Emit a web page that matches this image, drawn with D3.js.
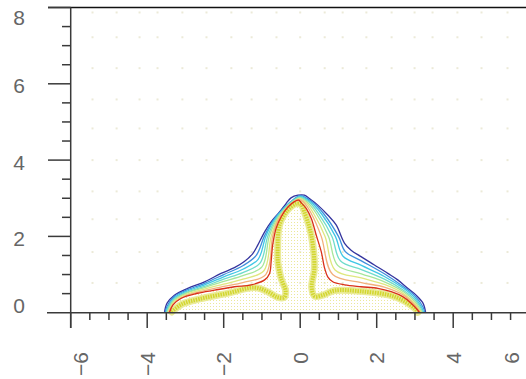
<!DOCTYPE html>
<html>
<head>
<meta charset="utf-8">
<script src="https://cdn.jsdelivr.net/npm/d3@7"></script>
<style>
  body { margin: 0; background: #fff; }
  text { font-family: "Liberation Sans", Arial, sans-serif; }
</style>
</head>
<body>
<svg id="chart" width="526" height="379"></svg>
<script>
// tick values
const xTicks = [-6, -4, -2, 0, 2, 4, 6];
const yTicks = [0, 2, 4, 6, 8];

// faint marker grid (x and y positions of the background dots)
const gridX = [-5.43, -4.8, -4.2, -3.73, -3.08, -2.45, -1.8, -1.27, -0.62, 0, 0.64, 1.11, 1.73, 2.39, 2.99, 3.46, 4.11, 4.74, 5.42];
const gridY = [7.87, 7.22, 6.41, 5.59, 4.83, 4.0, 3.18, 2.45, 1.59, 0.78];

// contour levels, outermost first
const blueLine = [[-3.55,0],[-3.48,0.25],[-3.29,0.46],[-2.94,0.64],[-2.5,0.81],[-2.07,1.03],[-1.72,1.18],[-1.46,1.34],[-1.24,1.55],[-1.11,1.77],[-0.93,2.12],[-0.76,2.38],[-0.54,2.64],[-0.37,2.86],[-0.24,3.01],[-0.06,3.08],[0.11,3.08],[0.24,2.99],[0.46,2.82],[0.72,2.56],[0.94,2.3],[1.16,1.82],[1.33,1.64],[1.59,1.47],[1.94,1.25],[2.29,1.03],[2.55,0.86],[2.81,0.64],[3.03,0.46],[3.21,0.25],[3.28,0]];
const line1 = [[-3.53,0],[-3.49,0.15],[-3.3,0.42],[-3.0,0.58],[-2.5,0.77],[-2.0,1.0],[-1.5,1.23],[-1.15,1.5],[-0.94,2.0],[-0.72,2.4],[-0.47,2.7],[-0.26,2.9],[0,3.07],[0.32,2.9],[0.61,2.6],[1.0,2.0],[1.18,1.6],[1.6,1.36],[2.2,1.02],[2.7,0.68],[3.0,0.44],[3.21,0.15],[3.26,0]];
const line2 = [[-3.51,0],[-3.46,0.15],[-3.3,0.38],[-3.0,0.55],[-2.5,0.73],[-2.0,0.94],[-1.5,1.14],[-1.1,1.4],[-0.9,2.0],[-0.7,2.4],[-0.46,2.7],[-0.24,2.9],[0,3.05],[0.27,2.9],[0.55,2.6],[0.92,2.0],[1.12,1.48],[1.6,1.24],[2.2,0.95],[2.7,0.64],[3.0,0.39],[3.17,0.15],[3.23,0]];
const line3 = [[-3.49,0],[-3.44,0.15],[-3.3,0.35],[-3.0,0.52],[-2.5,0.69],[-2.0,0.88],[-1.5,1.05],[-1.05,1.3],[-0.85,2.0],[-0.67,2.4],[-0.44,2.7],[-0.23,2.9],[-0.01,3.03],[0.23,2.9],[0.48,2.6],[0.83,2.0],[1.05,1.36],[1.6,1.13],[2.2,0.88],[2.7,0.59],[3.0,0.34],[3.14,0.15],[3.21,0]];
const line4 = [[-3.48,0],[-3.42,0.15],[-3.3,0.32],[-3.0,0.5],[-2.5,0.66],[-2.0,0.82],[-1.5,0.97],[-1.0,1.2],[-0.81,2.0],[-0.64,2.4],[-0.42,2.7],[-0.21,2.9],[-0.01,3.01],[0.18,2.9],[0.42,2.6],[0.74,2.0],[0.98,1.24],[1.6,1.02],[2.2,0.81],[2.7,0.55],[3.0,0.29],[3.1,0.15],[3.19,0]];
const line5 = [[-3.46,0],[-3.39,0.15],[-3.3,0.29],[-3.0,0.47],[-2.5,0.62],[-2.0,0.75],[-1.5,0.88],[-0.95,1.1],[-0.76,2.0],[-0.61,2.4],[-0.4,2.7],[-0.19,2.9],[-0.02,2.99],[0.14,2.9],[0.35,2.6],[0.65,2.0],[0.91,1.12],[1.6,0.91],[2.2,0.74],[2.7,0.5],[3.0,0.24],[3.07,0.15],[3.17,0]];
const line6 = [[-3.44,0],[-3.37,0.15],[-3.3,0.25],[-3.0,0.44],[-2.5,0.58],[-2.0,0.69],[-1.5,0.79],[-0.9,1.0],[-0.72,2.0],[-0.59,2.4],[-0.39,2.7],[-0.18,2.9],[-0.02,2.97],[0.09,2.9],[0.29,2.6],[0.55,2.0],[0.85,1.0],[1.6,0.79],[2.2,0.67],[2.7,0.46],[3.0,0.19],[3.03,0.15],[3.14,0]];
const redLine = [[-3.42,0],[-3.33,0.2],[-3.11,0.38],[-2.68,0.51],[-2.24,0.59],[-1.72,0.68],[-1.28,0.73],[-0.93,0.86],[-0.8,1.03],[-0.76,1.34],[-0.72,1.77],[-0.63,2.21],[-0.5,2.51],[-0.32,2.77],[-0.15,2.91],[-0.04,2.95],[0.03,2.88],[0.16,2.73],[0.29,2.47],[0.42,2.03],[0.55,1.6],[0.64,1.16],[0.72,0.94],[0.85,0.81],[1.16,0.73],[1.59,0.68],[2.03,0.64],[2.38,0.55],[2.68,0.42],[2.9,0.25],[3.07,0.07],[3.12,0]];

// dense yellow band just inside the red level
const bandLine = [[-3.36,0.02],[-3.1,0.22],[-2.63,0.36],[-1.85,0.52],[-1.2,0.66],[-0.85,0.55],[-0.6,0.41],[-0.42,0.4],[-0.38,0.56],[-0.5,0.9],[-0.58,1.3],[-0.59,1.59],[-0.54,2.3],[-0.33,2.69],[-0.1,2.86],[0.02,2.84],[0.11,2.64],[0.29,2.03],[0.37,1.17],[0.3,0.66],[0.38,0.43],[0.62,0.47],[0.9,0.58],[1.59,0.56],[2.47,0.42],[2.99,0.12],[3.08,0.01]];

const contours = [blueLine, line1, line2, line3, line4, line5, line6, redLine];
const contourColors = ["#34349e", "#3f8fdc", "#3fc7e6", "#6fdccb", "#a6e69a", "#dfe77e", "#f2b07c", "#d8301a"];

const svg = d3.select("#chart");
const x = d3.scaleLinear().domain([-6, 6]).range([70.7, 529.7]);
const y = d3.scaleLinear().domain([0, 8]).range([312.7, 7.5]);

const defs = svg.append("defs");
const pat = defs.append("pattern").attr("id", "speck")
  .attr("width", 3).attr("height", 3).attr("patternUnits", "userSpaceOnUse");
pat.append("rect").attr("width", 1).attr("height", 1).attr("fill", "#ebe89a");

// background marker grid
svg.append("g").selectAll("rect")
  .data(d3.cross(gridX, gridY))
  .join("rect")
  .attr("x", d => x(d[0]) - 1).attr("y", d => y(d[1]) - 1)
  .attr("width", 2).attr("height", 2)
  .attr("fill", "#ecead8");

const curve = d3.line()
  .x(d => x(d[0])).y(d => y(d[1]))
  .curve(d3.curveCatmullRom.alpha(0.5));

// speckled interior under the red level
svg.append("path")
  .attr("d", curve(redLine) + "Z")
  .attr("fill", "url(#speck)");

// yellow band
svg.append("path")
  .attr("d", curve(bandLine))
  .attr("fill", "none").attr("stroke", "#eaeb98").attr("stroke-width", 7)
  .attr("stroke-linejoin", "round").attr("stroke-linecap", "round");
svg.append("path")
  .attr("d", curve(bandLine))
  .attr("fill", "none").attr("stroke", "#d2d62e").attr("stroke-width", 4)
  .attr("stroke-dasharray", "1.5,1").attr("stroke-linejoin", "round");

// contour lines
svg.append("g").selectAll("path")
  .data(contours)
  .join("path")
  .attr("d", d => curve(d))
  .attr("fill", "none")
  .attr("stroke", (d, i) => contourColors[i])
  .attr("stroke-width", 1.3);

// axes
const ax = svg.append("g").attr("stroke", "#3a3a3a").attr("stroke-width", 1.5);
ax.append("line").attr("x1", 48).attr("x2", 526).attr("y1", y(8)).attr("y2", y(8)).attr("stroke", "#111");
ax.append("line").attr("x1", 47).attr("x2", 526).attr("y1", y(0)).attr("y2", y(0));
ax.append("line").attr("x1", x(-6)).attr("x2", x(-6)).attr("y1", y(8)).attr("y2", 328);

ax.selectAll(".ymaj").data(yTicks.slice(1)).join("line")
  .attr("x1", 48).attr("x2", x(-6)).attr("y1", d => y(d)).attr("y2", d => y(d));
ax.selectAll(".ymin").data(d3.range(0.5, 8, 0.5).filter(v => v % 2 !== 0)).join("line")
  .attr("x1", 62).attr("x2", x(-6)).attr("y1", d => y(d)).attr("y2", d => y(d));
ax.selectAll(".xmaj").data(xTicks).join("line")
  .attr("x1", d => x(d)).attr("x2", d => x(d)).attr("y1", y(0)).attr("y2", 328);
ax.selectAll(".xmin").data(d3.range(-5.5, 6, 0.5).filter(v => v % 2 !== 0)).join("line")
  .attr("x1", d => x(d)).attr("x2", d => x(d)).attr("y1", y(0)).attr("y2", 320);

// tick labels
svg.append("g").selectAll("text")
  .data(yTicks).join("text")
  .attr("x", 19)
  .attr("y", d => Math.max(17.5, Math.min(305, y(d) + 2)))
  .attr("dy", "0.36em")
  .attr("text-anchor", "middle")
  .attr("font-size", 21)
  .attr("fill", "#666")
  .text(d => d);

svg.append("g").selectAll("text")
  .data(xTicks).join("text")
  .attr("transform", d => `translate(${Math.max(80, Math.min(511, x(d)))},352) rotate(-90)`)
  .attr("dy", "0.36em")
  .attr("text-anchor", "end")
  .attr("font-size", 21)
  .attr("fill", "#666")
  .text(d => d < 0 ? "\u2212" + Math.abs(d) : d);
</script>
</body>
</html>
